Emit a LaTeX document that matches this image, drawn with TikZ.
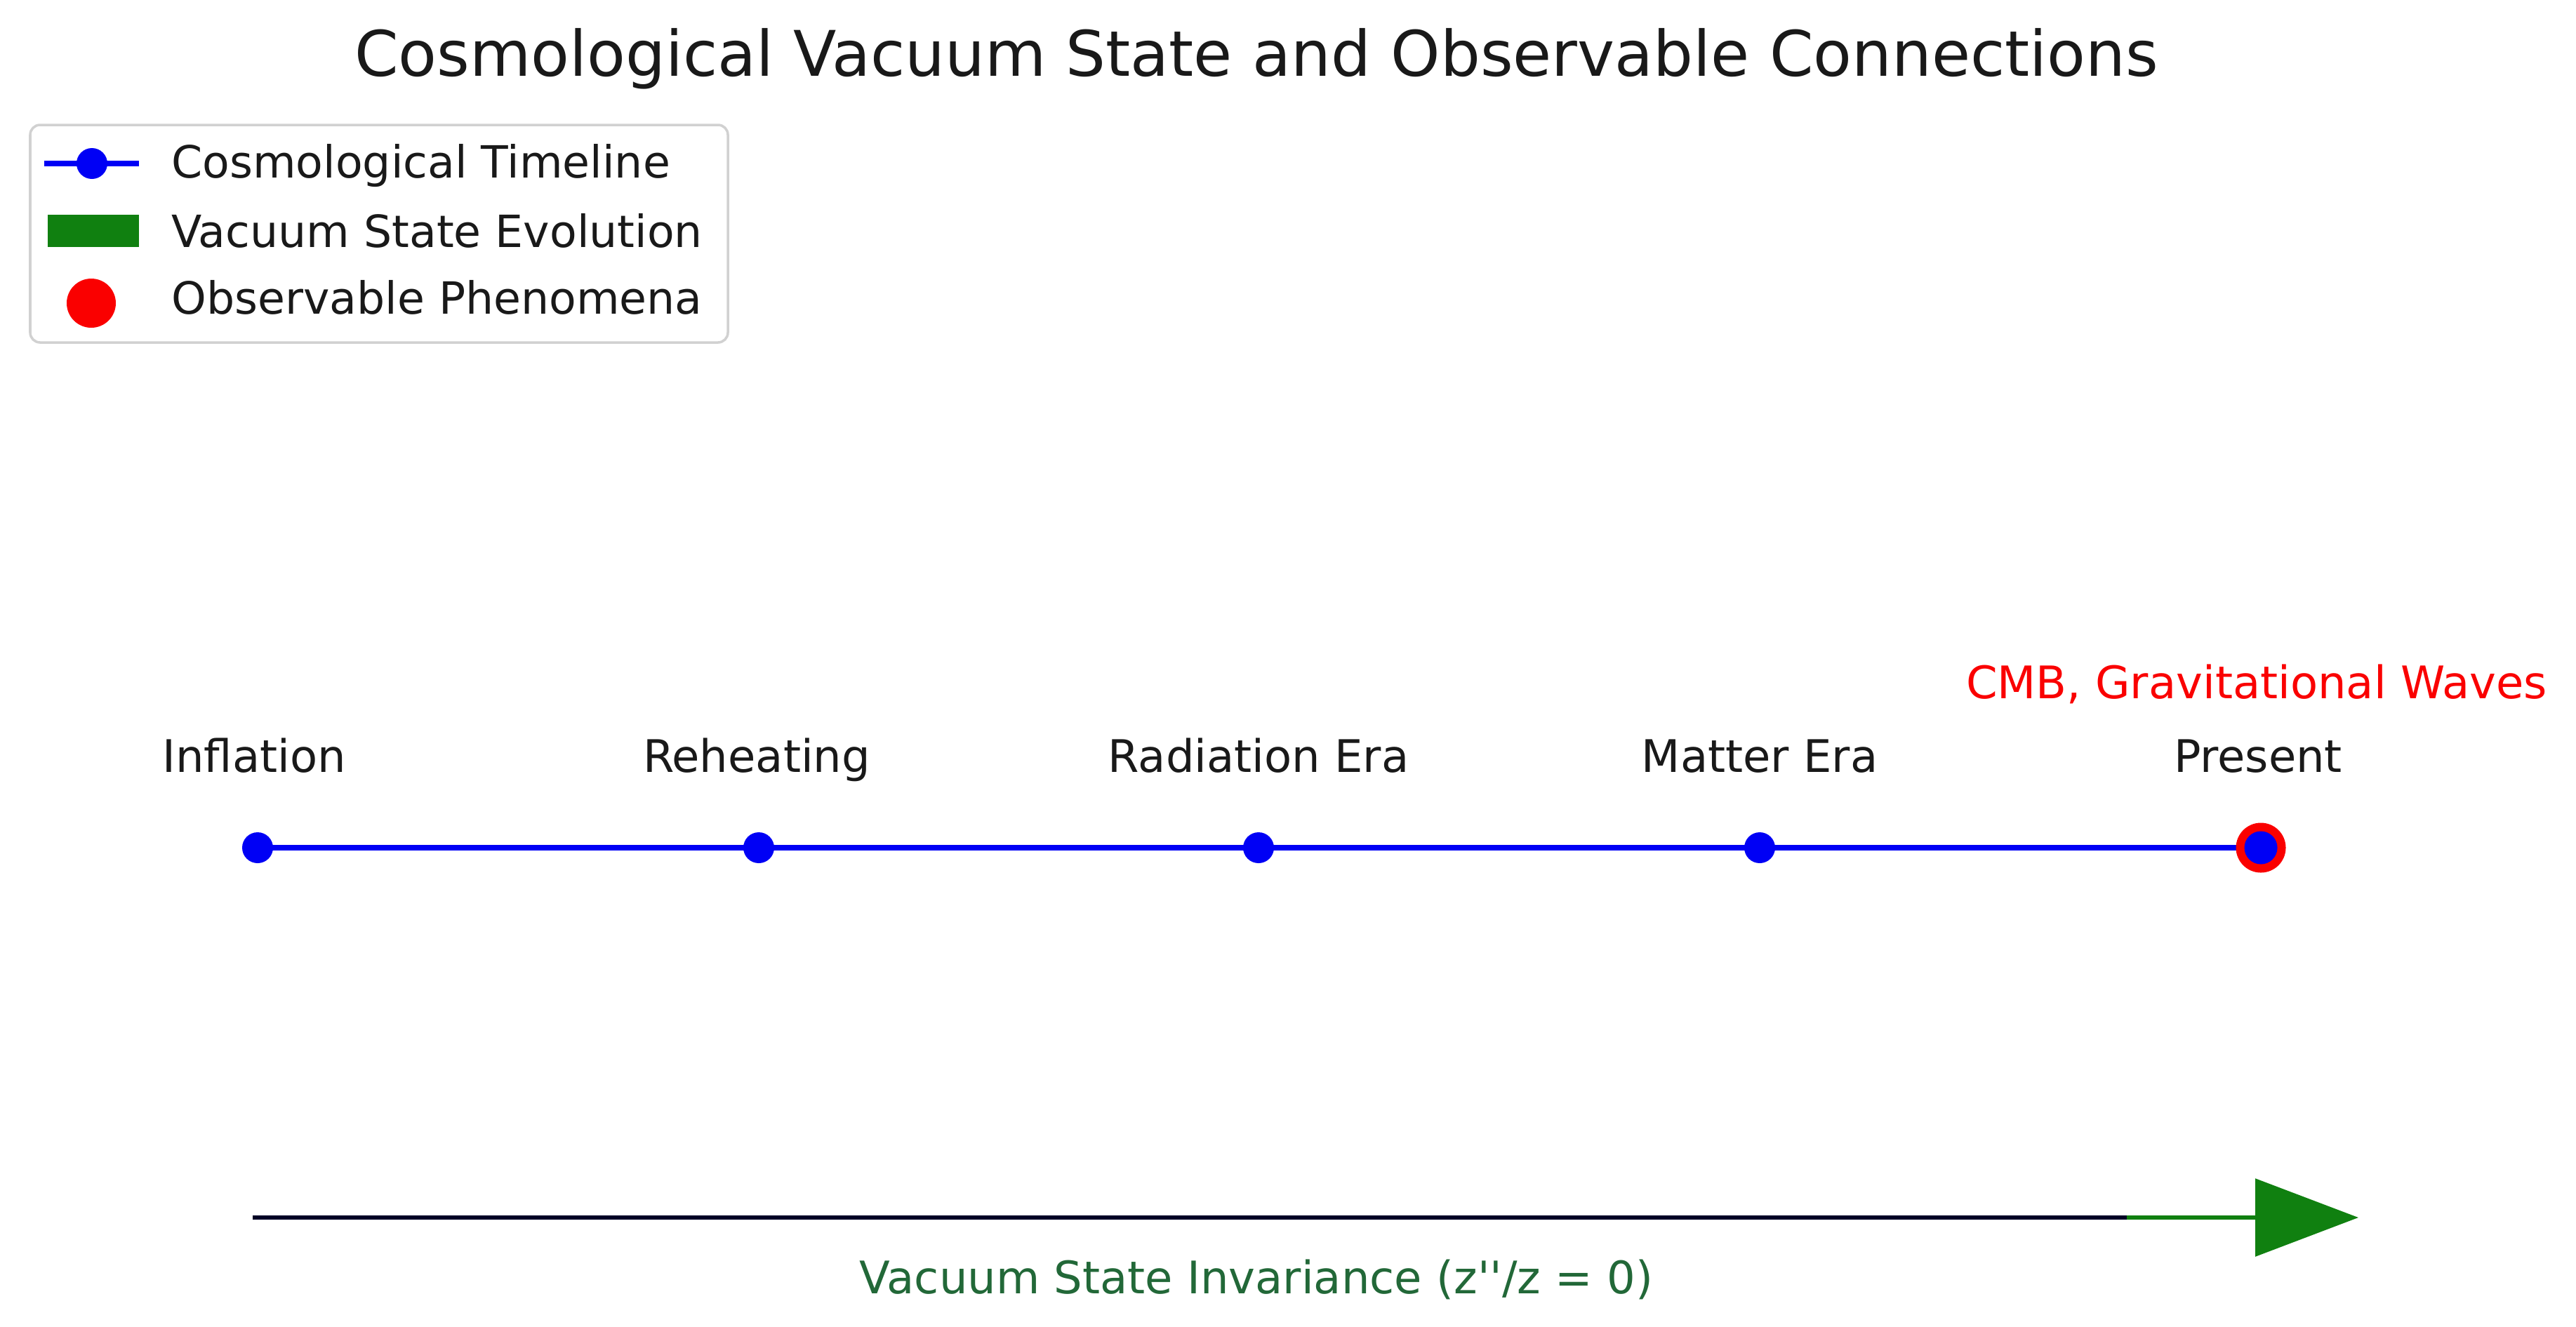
\documentclass[tikz,border=0pt]{standalone}
\usepackage{fontspec}
\setmainfont{DejaVu Sans}
\usetikzlibrary{arrows.meta,calc}
\definecolor{tlblue}{RGB}{0,0,245}
\definecolor{vacgreen}{RGB}{16,128,16}
\definecolor{obsred}{RGB}{250,0,0}
\definecolor{invgreen}{RGB}{34,104,56}
\tikzset{
  era/.style={circle,fill=tlblue,inner sep=0pt,minimum size=0.44cm},
  eralabel/.style={font=\fontsize{18.2}{22}\selectfont,text=black!90,anchor=base},
  legtext/.style={font=\fontsize{18}{22}\selectfont,text=black!90,anchor=base west},
  timeline/.style={tlblue,line width=2.4pt}
}
\begin{document}
\begin{tikzpicture}[x=1cm,y=-1cm]
  \useasboundingbox (0,0) rectangle (36.7,18.9);

  \node[font=\fontsize{25.5}{30}\selectfont,text=black!90,anchor=base] (title) at (17.9,1.08) {Cosmological Vacuum State and Observable Connections};

  % timeline
  \coordinate (inflation) at (3.67,12.08);
  \coordinate (reheating) at (10.81,12.08);
  \coordinate (radiation) at (17.93,12.08);
  \coordinate (matter) at (25.07,12.08);
  \coordinate (present) at (32.21,12.08);
  \draw[timeline] (inflation) -- (reheating) -- (radiation) -- (matter) -- (present);
  \node[circle,fill=obsred,inner sep=0pt,minimum size=0.71cm] (obs) at (present) {};
  \node[era] (pInflation) at (inflation) {};
  \node[era] (pReheating) at (reheating) {};
  \node[era] (pRadiation) at (radiation) {};
  \node[era] (pMatter) at (matter) {};
  \node[era,minimum size=0.47cm] (pPresent) at (present) {};

  \node[eralabel] at (3.62,11.00) {Inflation};
  \node[eralabel] at (10.78,11.00) {Reheating};
  \node[eralabel] at (17.93,11.00) {Radiation Era};
  \node[eralabel] at (25.07,11.00) {Matter Era};
  \node[eralabel] at (32.17,11.00) {Present};
  \node[eralabel,text=obsred] (obslabel) at (32.15,9.95) {CMB, Gravitational Waves};

  % vacuum arrow
  \coordinate (vStart) at (3.60,17.35);
  \coordinate (vMid) at (30.3,17.35);
  \coordinate (vEnd) at (33.60,17.35);
  \draw[line width=1.7pt,black!85!blue] (vStart) -- (vMid);
  \draw[line width=1.7pt,vacgreen,-{Triangle[length=1.47cm,width=1.1cm]}] (vMid) -- (vEnd);
  \node[font=\fontsize{18.2}{22}\selectfont,text=invgreen,anchor=base] (invlabel) at (17.9,18.43) {Vacuum State Invariance (z\textquotesingle\textquotesingle/z = 0)};

  % legend
  \draw[black!18,line width=1pt,rounded corners=4pt,fill=white] (0.43,1.78) rectangle (10.37,4.88);
  \coordinate (legA) at (1.31,2.33);
  \coordinate (legB) at (1.31,3.30);
  \coordinate (legC) at (1.30,4.32);
  \draw[timeline] ($(legA)+(-0.68,0)$) -- ($(legA)+(0.67,0)$);
  \node[era,minimum size=0.44cm] at (legA) {};
  \fill[vacgreen] (0.68,3.06) rectangle (1.98,3.52);
  \node[circle,fill=obsred,inner sep=0pt,minimum size=0.70cm] at (legC) {};
  \node[legtext] at (2.32,2.53) {Cosmological Timeline};
  \node[legtext] at (2.32,3.52) {Vacuum State Evolution};
  \node[legtext] at (2.32,4.47) {Observable Phenomena};
\end{tikzpicture}
\end{document}
